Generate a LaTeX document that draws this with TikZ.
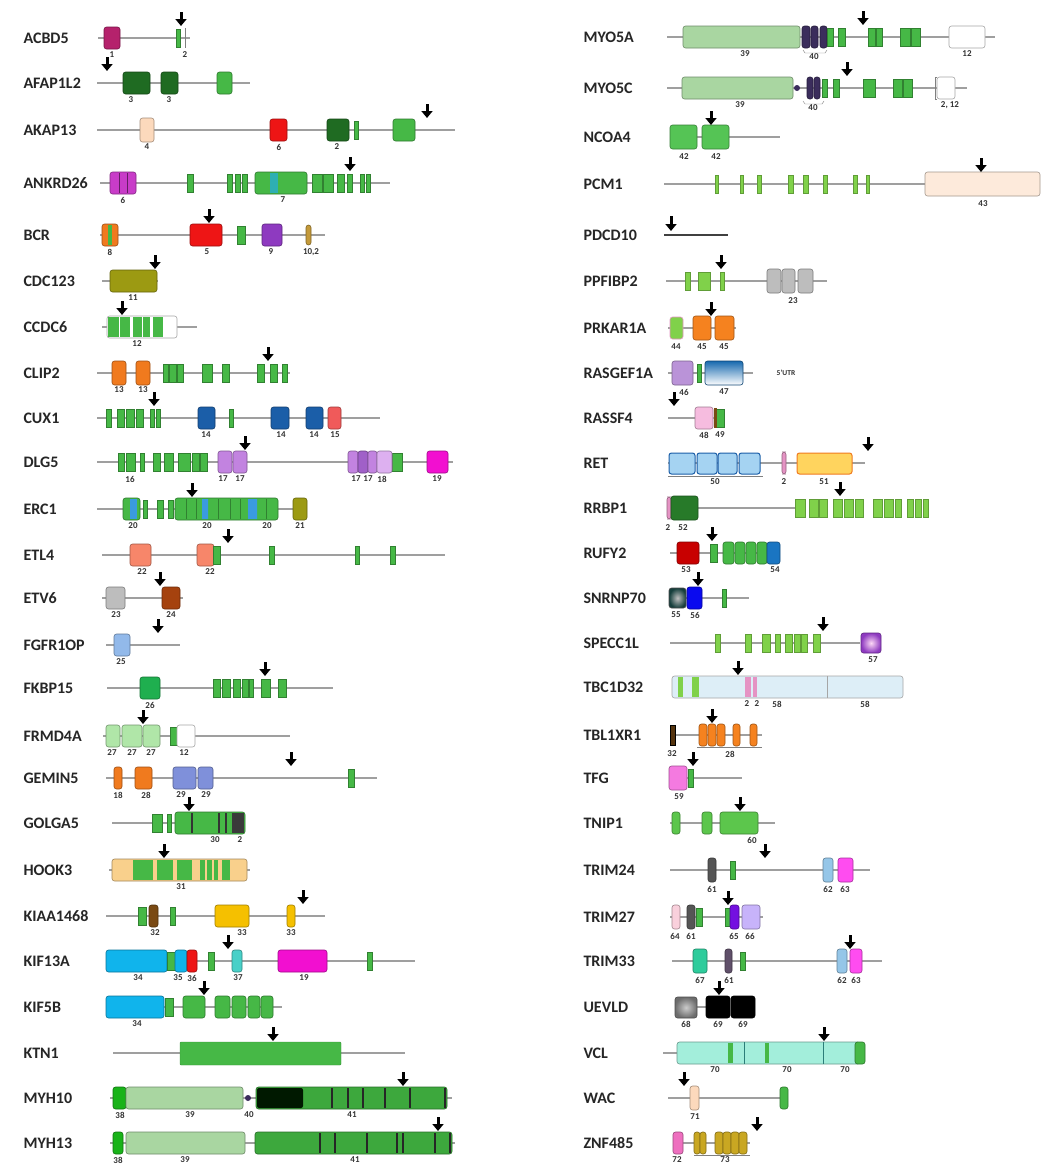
\documentclass[tikz,border=0pt]{standalone}
\usepackage{fontspec}
\setmainfont{Carlito}
\usepackage{tikz}
\usepackage{xcolor}
\usetikzlibrary{arrows.meta}

% domain colours
\definecolor{ccg}{HTML}{46B846}
\definecolor{lgr}{HTML}{80D14A}
\definecolor{dkg}{HTML}{1F6B22}
\definecolor{pale}{HTML}{A9D6A1}
\definecolor{rasp}{HTML}{B5226C}
\definecolor{orchid}{HTML}{C83CC8}
\definecolor{peach}{HTML}{FCD9BC}
\definecolor{gef}{HTML}{EE1515}
\definecolor{grape}{HTML}{8E3AC0}
\definecolor{ochre}{HTML}{C49A3A}
\definecolor{olive}{HTML}{9C9A12}
\definecolor{orng}{HTML}{F07A1E}
\definecolor{navy}{HTML}{1B5EA8}
\definecolor{salm}{HTML}{F05A5A}
\definecolor{lav}{HTML}{C283E0}
\definecolor{lavd}{HTML}{A060C8}
\definecolor{lavl}{HTML}{DDB0F0}
\definecolor{hotm}{HTML}{F20FD0}
\definecolor{sky}{HTML}{3A9BE0}
\definecolor{coral}{HTML}{F7866A}
\definecolor{grey}{HTML}{BDBDBD}
\definecolor{rust}{HTML}{A5420E}
\definecolor{cblue}{HTML}{92B9EA}
\definecolor{sea}{HTML}{1FAF4F}
\definecolor{mint}{HTML}{B0E6A8}
\definecolor{corn}{HTML}{7F90DA}
\definecolor{coal}{HTML}{3A3A3A}
\definecolor{tan}{HTML}{F9D08C}
\definecolor{bark}{HTML}{7A4A14}
\definecolor{gold}{HTML}{F5C000}
\definecolor{cyan}{HTML}{10B4EC}
\definecolor{teal}{HTML}{48D0C8}
\definecolor{lime}{HTML}{19B319}
\definecolor{dusk}{HTML}{3B2D5C}
\definecolor{myo}{HTML}{3DA83D}
\definecolor{ncoa}{HTML}{55C455}
\definecolor{pcm}{HTML}{FDEADB}
\definecolor{pka}{HTML}{F5821F}
\definecolor{lil}{HTML}{BA93D8}
\definecolor{rose}{HTML}{F6BCDF}
\definecolor{cadh}{HTML}{A5D3F2}
\definecolor{yel}{HTML}{FFD45E}
\definecolor{wine}{HTML}{C80000}
\definecolor{blu}{HTML}{1A75C2}
\definecolor{rrm}{HTML}{0A0AEF}
\definecolor{tbc}{HTML}{DDEEF7}
\definecolor{pinkb}{HTML}{E593C4}
\definecolor{fuch}{HTML}{F47AE0}
\definecolor{tnip}{HTML}{5CC64C}
\definecolor{ring}{HTML}{555555}
\definecolor{bbox}{HTML}{95C6E8}
\definecolor{phd}{HTML}{FF4CF0}
\definecolor{blush}{HTML}{F9D0DC}
\definecolor{viol}{HTML}{7410E0}
\definecolor{lilac}{HTML}{C7B3FA}
\definecolor{teal2}{HTML}{2ECC9C}
\definecolor{aqua}{HTML}{A3EEDB}
\definecolor{zpink}{HTML}{EE6FBF}
\definecolor{zgold}{HTML}{C9A722}

\newcounter{lbl}
\newcommand{\dom}[5][11]{\draw[dom, fill=#5, draw=#5!65!black] (#2,#4-#1) rectangle (#3,#4+#1);}
\newcommand{\ccb}[3]{\draw[ccbar] (#1,#3-9) rectangle (#2,#3+9);}
\newcommand{\lgb}[3]{\draw[lgbar] (#1,#3-9) rectangle (#2,#3+9);}
\newcommand{\dnum}[3]{\stepcounter{lbl}\node[num] (lbl\arabic{lbl}) at (#1,#2+17) {#3};}
\newcommand{\brk}[2]{\draw[brk] (#1,#2-26) -- (#1,#2-12);}

\begin{document}
\begin{tikzpicture}[
    x=1pt, y=-1pt,
    gene/.style={anchor=west, font=\fontsize{16}{16}\selectfont\bfseries, text=black!85},
    num/.style={font=\fontsize{9}{9}\selectfont\bfseries, text=black!80, inner sep=0pt},
    bb/.style={draw=gray!75, line width=2pt},
    dom/.style={rounded corners=2.5pt, line width=0.6pt},
    ccbar/.style={fill=ccg, draw=ccg!70!black, line width=0.4pt},
    lgbar/.style={fill=lgr, draw=lgr!75!black, line width=0.4pt},
    brk/.style={-{Triangle[width=11pt,length=7pt]}, line width=3pt, black}
]
    \useasboundingbox (0,0) rectangle (1042,1167);
    \fill[white] (0,0) rectangle (1042,1167);

    %%%%%%%%%%%%%%%% left column %%%%%%%%%%%%%%%%

    % ACBD5
    \node[gene] (ACBD5) at (20,38) {ACBD5};
    \draw[bb] (98,38) -- (190,38);
    \dom{104}{120}{38}{rasp}
    \ccb{176}{180}{38}
    \draw[gray, line width=0.8pt] (185,28) -- (185,48);
    \dnum{112}{38}{1} \dnum{185}{38}{2}
    \brk{181}{38}

    % AFAP1L2
    \node[gene] (AFAP1L2) at (20,83) {AFAP1L2};
    \draw[bb] (97,83) -- (250,83);
    \dom{123}{150}{83}{dkg} \dom{161}{178}{83}{dkg}
    \dom{217}{232}{83}{ccg}
    \dnum{131}{83}{3} \dnum{169}{83}{3}
    \brk{107}{83}

    % AKAP13
    \node[gene] (AKAP13) at (20,130) {AKAP13};
    \draw[bb] (97,130) -- (455,130);
    \dom[12]{140}{154}{130}{peach}
    \dom{270}{287}{130}{gef}
    \dom{327}{349}{130}{dkg}
    \ccb{354}{358}{130}
    \dom{393}{415}{130}{ccg}
    \dnum{147}{130}{4} \dnum{279}{130}{6} \dnum{337}{130}{2}
    \brk{427}{130}

    % ANKRD26
    \node[gene] (ANKRD26) at (20,183) {ANKRD26};
    \draw[bb] (100,183) -- (390,183);
    \dom{110}{136}{183}{orchid}
    \draw[orchid!50!black] (119,173) -- (119,193) (127,173) -- (127,193);
    \foreach \a/\b in {187/193, 227/232, 235/240, 242/247} \ccb{\a}{\b}{183};
    \dom{255}{307}{183}{ccg}
    \fill[sky!80!green] (270,173) rectangle (278,193);
    \foreach \a/\b in {312/322, 323/333, 337/344, 347/352, 360/364, 366/370} \ccb{\a}{\b}{183};
    \dnum{123}{183}{6} \dnum{283}{183}{7}
    \brk{350}{183}

    % BCR
    \node[gene] (BCR) at (20,235) {BCR};
    \draw[bb] (100,235) -- (325,235);
    \dom{102}{118}{235}{orng}
    \fill[ccg] (108,225) rectangle (112,245);
    \dom{190}{222}{235}{gef}
    \ccb{237}{245}{235}
    \dom{262}{282}{235}{grape}
    \dom[10]{306}{311}{235}{ochre}
    \dnum{110}{235}{8} \dnum{207}{235}{5} \dnum{271}{235}{9} \dnum{311}{235}{10,2}
    \brk{209}{235}

    % CDC123
    \node[gene] (CDC123) at (20,281) {CDC123};
    \draw[bb] (102,281) -- (158,281);
    \dom{110}{157}{281}{olive}
    \dnum{133}{281}{11}
    \brk{155}{281}

    % CCDC6
    \node[gene] (CCDC6) at (20,327) {CCDC6};
    \draw[bb] (102,327) -- (197,327);
    \dom{107}{177}{327}{white}
    \foreach \a/\b in {108/119, 120/130, 133/142, 143/150, 153/163} \fill[ccg] (\a,317) rectangle (\b,337);
    \dnum{137}{327}{12}
    \brk{122}{327}

    % CLIP2
    \node[gene] (CLIP2) at (20,373) {CLIP2};
    \draw[bb] (97,373) -- (290,373);
    \dom[12]{112}{126}{373}{orng} \dom[12]{136}{150}{373}{orng}
    \foreach \a/\b in {163/168, 169/176, 177/183, 202/212, 222/229, 257/264, 270/277, 282/287} \ccb{\a}{\b}{373};
    \dnum{119}{373}{13} \dnum{143}{373}{13}
    \brk{268}{373}

    % CUX1
    \node[gene] (CUX1) at (20,418) {CUX1};
    \draw[bb] (97,418) -- (380,418);
    \foreach \a/\b in {106/111, 117/124, 126/134, 136/143, 150/154, 156/160, 229/233} \ccb{\a}{\b}{418};
    \dom{198}{215}{418}{navy} \dom{271}{289}{418}{navy} \dom{306}{323}{418}{navy}
    \dom{328}{341}{418}{salm}
    \dnum{206}{418}{14} \dnum{281}{418}{14} \dnum{314}{418}{14} \dnum{335}{418}{15}
    \brk{154}{418}

    % DLG5
    \node[gene] (DLG5) at (20,462) {DLG5};
    \draw[bb] (97,462) -- (453,462);
    \foreach \a/\b in {118/124, 126/135, 140/144, 153/160, 164/173, 178/190, 192/199, 200/207, 392/402} \ccb{\a}{\b}{462};
    \dom{218}{232}{462}{lav} \dom{233}{247}{462}{lav}
    \dom{348}{358}{462}{lav} \dom{358}{368}{462}{lavd} \dom{368}{377}{462}{lav} \dom{377}{392}{462}{lavl}
    \dom{427}{448}{462}{hotm}
    \dnum{130}{462}{16} \dnum{223}{462}{17} \dnum{240}{462}{17}
    \dnum{356}{462}{17} \dnum{368}{462}{17} \dnum{382}{462}{18} \dnum{437}{462}{19}
    \brk{245}{462}

    % ERC1
    \node[gene] (ERC1) at (20,509) {ERC1};
    \draw[bb] (97,509) -- (307,509);
    \dom{123}{140}{509}{ccg}
    \fill[sky] (130,499) rectangle (137,519);
    \foreach \a/\b in {143/147, 157/163, 168/173} \ccb{\a}{\b}{509};
    \dom{175}{278}{509}{ccg}
    \fill[sky] (202,499) rectangle (208,519) (248,499) rectangle (257,519);
    \foreach \x in {186, 196, 218, 230, 240, 266} \draw[ccg!70!black, line width=0.5pt] (\x,499) -- (\x,519);
    \dom{293}{307}{509}{olive}
    \dnum{133}{509}{20} \dnum{207}{509}{20} \dnum{267}{509}{20} \dnum{300}{509}{21}
    \brk{192}{509}

    % ETL4
    \node[gene] (ETL4) at (20,555) {ETL4};
    \draw[bb] (102,555) -- (445,555);
    \dom{130}{151}{555}{coral}
    \dom{197}{214}{555}{coral}
    \foreach \a/\b in {213/220, 269/274, 355/359, 390/395} \ccb{\a}{\b}{555};
    \dnum{142}{555}{22} \dnum{210}{555}{22}
    \brk{228}{555}

    % ETV6
    \node[gene] (ETV6) at (20,598) {ETV6};
    \draw[bb] (102,598) -- (183,598);
    \dom{106}{125}{598}{grey} \dom{162}{180}{598}{rust}
    \dnum{116}{598}{23} \dnum{171}{598}{24}
    \brk{160}{598}

    % FGFR1OP
    \node[gene] (FGFR1OP) at (20,645) {FGFR1OP};
    \draw[bb] (106,645) -- (180,645);
    \dom{114}{130}{645}{cblue}
    \dnum{121}{645}{25}
    \brk{158}{645}

    % FKBP15
    \node[gene] (FKBP15) at (20,688) {FKBP15};
    \draw[bb] (107,688) -- (333,688);
    \dom{140}{160}{688}{sea}
    \foreach \a/\b in {213/220, 222/230, 233/240, 242/248, 249/253, 261/270, 278/286} \ccb{\a}{\b}{688};
    \dnum{150}{688}{26}
    \brk{265}{688}

    % FRMD4A
    \node[gene] (FRMD4A) at (20,736) {FRMD4A};
    \draw[bb] (103,736) -- (290,736);
    \dom{106}{120}{736}{mint} \dom{122}{142}{736}{mint} \dom{143}{160}{736}{mint}
    \ccb{170}{177}{736}
    \dom{177}{195}{736}{white}
    \dnum{112}{736}{27} \dnum{132}{736}{27} \dnum{151}{736}{27} \dnum{184}{736}{12}
    \brk{143}{736}

    % GEMIN5
    \node[gene] (GEMIN5) at (20,778) {GEMIN5};
    \draw[bb] (106,778) -- (377,778);
    \dom{114}{122}{778}{orng} \dom{135}{152}{778}{orng}
    \dom{173}{196}{778}{corn} \dom{198}{213}{778}{corn}
    \ccb{348}{354}{778}
    \dnum{118}{778}{18} \dnum{146}{778}{28} \dnum{181}{778}{29} \dnum{206}{778}{29}
    \brk{291}{778}

    % GOLGA5
    \node[gene] (GOLGA5) at (20,823) {GOLGA5};
    \draw[bb] (112,823) -- (245,823);
    \foreach \a/\b in {152/162, 167/171} \ccb{\a}{\b}{823};
    \dom{175}{245}{823}{ccg}
    \fill[coal] (232,813) rectangle (244,833);
    \foreach \x in {192, 219, 226} \draw[black!80, line width=1.3pt] (\x,813) -- (\x,833);
    \dnum{215}{823}{30} \dnum{240}{823}{2}
    \brk{189}{823}

    % HOOK3
    \node[gene] (HOOK3) at (20,870) {HOOK3};
    \draw[bb] (109,870) -- (250,870);
    \dom{112}{247}{870}{tan}
    \foreach \a/\b in {133/153, 157/173, 177/192, 200/205, 207/212, 214/218, 222/230} \fill[ccg] (\a,860) rectangle (\b,880);
    \dnum{181}{870}{31}
    \brk{164}{870}

    % KIAA1468
    \node[gene] (KIAA1468) at (20,916) {KIAA1468};
    \draw[bb] (106,916) -- (325,916);
    \foreach \a/\b in {138/146, 170/175} \ccb{\a}{\b}{916};
    \dom{149}{158}{916}{bark}
    \dom{215}{249}{916}{gold} \dom{287}{295}{916}{gold}
    \dnum{155}{916}{32} \dnum{242}{916}{33} \dnum{291}{916}{33}
    \brk{303}{916}

    % KIF13A
    \node[gene] (KIF13A) at (20,961) {KIF13A};
    \draw[bb] (106,961) -- (415,961);
    \dom{106}{167}{961}{cyan}
    \ccb{167}{175}{961}
    \dom{175}{187}{961}{cyan} \dom{187}{197}{961}{gef}
    \foreach \a/\b in {208/214, 367/372} \ccb{\a}{\b}{961};
    \dom{232}{242}{961}{teal}
    \dom{278}{327}{961}{hotm}
    \dnum{138}{961}{34} \dnum{178}{961}{35} \dnum{192}{961}{36} \dnum{238}{961}{37} \dnum{304}{961}{19}
    \brk{228}{961}

    % KIF5B
    \node[gene] (KIF5B) at (20,1007) {KIF5B};
    \draw[bb] (106,1007) -- (282,1007);
    \dom{106}{164}{1007}{cyan}
    \ccb{165}{173}{1007}
    \foreach \a/\b in {183/205, 215/230, 232/246, 248/260, 261/273} \dom{\a}{\b}{1007}{ccg};
    \dnum{137}{1007}{34}
    \brk{204}{1007}

    % KTN1
    \node[gene] (KTN1) at (20,1053) {KTN1};
    \draw[bb] (113,1053) -- (405,1053);
    \draw[fill=ccg, draw=ccg!80!black, rounded corners=1pt] (180,1042) rectangle (341,1065);
    \brk{273}{1053}

    % MYH10
    \node[gene] (MYH10) at (20,1098) {MYH10};
    \draw[bb] (110,1098) -- (452,1098);
    \dom{113}{126}{1098}{lime}
    \dom{126}{243}{1098}{pale}
    \fill[dusk] (248,1098) circle (3);
    \dom{256}{447}{1098}{myo}
    \fill[black!90!green, rounded corners=2pt] (257,1088) rectangle (303,1108);
    \foreach \x in {332, 348, 363, 385, 410, 445} \draw[black!85, line width=1.8pt] (\x,1088) -- (\x,1108);
    \dnum{120}{1098}{38} \dnum{190}{1098}{39} \dnum{249}{1098}{40} \dnum{352}{1098}{41}
    \brk{403}{1098}

    % MYH13
    \node[gene] (MYH13) at (20,1143) {MYH13};
    \draw[bb] (110,1143) -- (455,1143);
    \dom{113}{123}{1143}{lime}
    \dom{126}{245}{1143}{pale}
    \dom{255}{452}{1143}{myo}
    \foreach \x in {320, 335, 367, 397, 403, 435, 450} \draw[black!85, line width=1.8pt] (\x,1133) -- (\x,1153);
    \node[num] (n38) at (118,1160) {38};
    \node[num] (n39) at (185,1160) {39};
    \node[num] (n41) at (355,1160) {41};
    \brk{438}{1143}

    %%%%%%%%%%%%%%%% right column %%%%%%%%%%%%%%%%

    % MYO5A
    \node[gene] (MYO5A) at (580,37) {MYO5A};
    \draw[bb] (667,37) -- (995,37);
    \dom{683}{800}{37}{pale}
    \foreach \a/\b in {802/810, 811/818, 820/827} \dom{\a}{\b}{37}{dusk};
    \draw[gray] (803,50) -- (805,53) -- (825,53) -- (827,50);
    \foreach \a/\b in {827/833, 838/845, 868/875, 876/882, 900/910, 911/920} \ccb{\a}{\b}{37};
    \dom{949}{985}{37}{white}
    \dnum{745}{37}{39} \dnum{814}{40}{40} \dnum{967}{37}{12}
    \brk{863}{37}

    % MYO5C
    \node[gene] (MYO5C) at (580,88) {MYO5C};
    \draw[bb] (667,88) -- (967,88);
    \dom{682}{793}{88}{pale}
    \fill[dusk] (797,88) circle (3);
    \foreach \a/\b in {807/813, 814/820} \dom{\a}{\b}{88}{dusk};
    \draw[gray] (803,101) -- (805,104) -- (822,104) -- (824,101);
    \foreach \a/\b in {822/827, 833/839, 863/875, 893/902, 903/912} \ccb{\a}{\b}{88};
    \dom{937}{955}{88}{white}
    \draw[gray] (937,77) -- (935,77) -- (935,99) -- (937,99);
    \dnum{740}{88}{39} \dnum{813}{91}{40} \dnum{950}{88}{2, 12}
    \brk{847}{88}

    % NCOA4
    \node[gene] (NCOA4) at (580,137) {NCOA4};
    \draw[bb] (670,137) -- (780,137);
    \dom[12]{670}{697}{137}{ncoa} \dom[12]{702}{729}{137}{ncoa}
    \dnum{684}{140}{42} \dnum{716}{140}{42}
    \brk{711}{137}

    % PCM1
    \node[gene] (PCM1) at (580,184) {PCM1};
    \draw[bb] (664,184) -- (927,184);
    \foreach \a/\b in {715/718, 740/743, 757/761, 788/793, 803/808, 823/827, 853/857, 866/869} \lgb{\a}{\b}{184};
    \dom[12]{925}{1040}{184}{pcm}
    \dnum{983}{187}{43}
    \brk{981}{184}

    % PDCD10
    \node[gene] (PDCD10) at (580,235) {PDCD10};
    \draw[bb, draw=black!75] (664,235) -- (728,235);
    \draw[brk] (671,216) -- (671,231);

    % PPFIBP2
    \node[gene] (PPFIBP2) at (580,281) {PPFIBP2};
    \draw[bb] (666,281) -- (827,281);
    \foreach \a/\b in {685/690, 698/710, 720/724} \lgb{\a}{\b}{281};
    \foreach \a/\b in {767/781, 782/795, 798/813} \dom[12]{\a}{\b}{281}{grey};
    \dnum{793}{284}{23}
    \brk{721}{281}

    % PRKAR1A
    \node[gene] (PRKAR1A) at (580,328) {PRKAR1A};
    \draw[bb] (668,328) -- (736,328);
    \draw[dom, fill=lgr, draw=pinkb] (670,317) rectangle (683,339);
    \dom[12]{693}{711}{328}{pka} \dom[12]{715}{734}{328}{pka}
    \dnum{676}{330}{44} \dnum{702}{330}{45} \dnum{724}{330}{45}
    \brk{711}{328}

    % RASGEF1A
    \node[gene] (RASGEF1A) at (580,373) {RASGEF1A};
    \draw[bb] (668,373) -- (753,373);
    \dom[12]{672}{693}{373}{lil}
    \ccb{697}{701}{373}
    \draw[dom, top color=blu!90!black, bottom color=white, draw=blu!60!black] (705,361) rectangle (743,385);
    \node[num, font=\fontsize{7.5}{7.5}\selectfont\bfseries] (utr) at (786,373) {5'UTR};
    \dnum{684}{375}{46} \dnum{724}{375}{47}

    % RASSF4
    \node[gene] (RASSF4) at (580,418) {RASSF4};
    \draw[bb] (668,418) -- (725,418);
    \dom{695}{713}{418}{rose}
    \ccb{715}{724}{418}
    \fill[bark] (714,408) rectangle (717,428);
    \dnum{704}{418}{48} \dnum{720}{418}{49}
    \brk{674}{418}

    % RET
    \node[gene] (RET) at (580,463) {RET};
    \draw[bb] (668,463) -- (865,463);
    \foreach \a/\b in {669/695, 697/717, 718/737, 739/760} \draw[dom, fill=cadh, draw=navy, line width=1pt] (\a,453) rectangle (\b,474);
    \draw[gray] (668,476) -- (763,476);
    \dom{782}{786}{463}{pinkb}
    \draw[dom, fill=yel, draw=orng, line width=1pt] (797,453) rectangle (852,474);
    \dnum{715}{465}{50} \dnum{784}{465}{2} \dnum{824}{465}{51}
    \brk{868}{463}

    % RRBP1
    \node[gene] (RRBP1) at (580,508) {RRBP1};
    \draw[bb] (667,508) -- (795,508);
    \dom{667}{671}{508}{pinkb}
    \dom[12]{671}{698}{508}{dkg!80!ccg}
    \foreach \a/\b in {795/805, 809/818, 819/827, 833/842, 844/853, 855/863, 873/882, 884/893, 895/901, 907/913, 915/921, 923/928} \lgb{\a}{\b}{508};
    \dnum{668}{511}{2} \dnum{683}{511}{52}
    \brk{840}{508}

    % RUFY2
    \node[gene] (RUFY2) at (580,553) {RUFY2};
    \draw[bb] (670,553) -- (780,553);
    \dom{677}{699}{553}{wine}
    \ccb{710}{717}{553}
    \foreach \a/\b in {723/734, 735/745, 746/756, 757/767} \dom{\a}{\b}{553}{ccg};
    \dom{767}{780}{553}{blu}
    \dnum{686}{553}{53} \dnum{775}{553}{54}
    \brk{712}{553}

    % SNRNP70
    \node[gene] (SNRNP70) at (580,598) {SNRNP70};
    \draw[bb] (669,598) -- (749,598);
    \draw[dom, inner color=gray!50, outer color=black!70!teal, draw=black!70] (669,588) rectangle (686,608);
    \dom{687}{702}{598}{rrm}
    \ccb{722}{726}{598}
    \dnum{676}{598}{55} \dnum{695}{598}{56}
    \brk{698}{598}

    % SPECC1L
    \node[gene] (SPECC1L) at (580,643) {SPECC1L};
    \draw[bb] (670,643) -- (860,643);
    \foreach \a/\b in {715/720, 745/751, 762/770, 775/780, 785/792, 794/800, 801/807, 813/820} \lgb{\a}{\b}{643};
    \draw[dom, inner color=white!70!fuch, outer color=grape, draw=grape!70!black] (861,633) rectangle (881,653);
    \dnum{873}{643}{57}
    \brk{823}{643}

    % TBC1D32
    \node[gene] (TBC1D32) at (580,687) {TBC1D32};
    \draw[dom, fill=tbc, draw=gray!70] (672,676) rectangle (903,698);
    \foreach \a/\b in {678/683, 692/699} \fill[lgr] (\a,677) rectangle (\b,697);
    \foreach \a/\b in {745/751, 753/757} \fill[pinkb] (\a,677) rectangle (\b,697);
    \draw[gray!70] (827,676) -- (827,698);
    \dnum{747}{687}{2} \dnum{757}{687}{2} \dnum{777}{687}{58} \dnum{865}{687}{58}
    \brk{738}{687}

    % TBL1XR1
    \node[gene] (TBL1XR1) at (580,735) {TBL1XR1};
    \draw[bb] (670,735) -- (762,735);
    \draw[fill=bark!70!black, draw=black] (670,725) rectangle (675,745);
    \foreach \a/\b in {699/707, 708/716, 717/725, 733/740, 750/757} \dom{\a}{\b}{735}{pka};
    \draw[gray] (697,747) -- (762,747);
    \dnum{672}{737}{32} \dnum{730}{737}{28}
    \brk{712}{735}

    % TFG
    \node[gene] (TFG) at (580,778) {TFG};
    \draw[bb] (669,778) -- (742,778);
    \dom[12]{669}{687}{778}{fuch}
    \ccb{688}{693}{778}
    \dnum{679}{780}{59}
    \brk{693}{778}

    % TNIP1
    \node[gene] (TNIP1) at (580,823) {TNIP1};
    \draw[bb] (670,823) -- (775,823);
    \dom{672}{680}{823}{tnip} \dom{702}{712}{823}{tnip} \dom{720}{758}{823}{tnip}
    \dnum{752}{823}{60}
    \brk{740}{823}

    % TRIM24
    \node[gene] (TRIM24) at (580,870) {TRIM24};
    \draw[bb] (670,870) -- (870,870);
    \dom[12]{708}{716}{870}{ring}
    \ccb{730}{735}{870}
    \dom[12]{823}{833}{870}{bbox} \dom[12]{838}{853}{870}{phd}
    \dnum{712}{872}{61} \dnum{828}{872}{62} \dnum{845}{872}{63}
    \brk{765}{870}

    % TRIM27
    \node[gene] (TRIM27) at (580,917) {TRIM27};
    \draw[bb] (670,917) -- (763,917);
    \dom[12]{672}{680}{917}{blush} \dom[12]{687}{695}{917}{ring}
    \foreach \a/\b in {696/702, 725/730} \ccb{\a}{\b}{917};
    \dom[12]{730}{739}{917}{viol} \dom[12]{742}{760}{917}{lilac}
    \dnum{675}{919}{64} \dnum{691}{919}{61} \dnum{734}{919}{65} \dnum{750}{919}{66}
    \brk{728}{917}

    % TRIM33
    \node[gene] (TRIM33) at (580,961) {TRIM33};
    \draw[bb] (672,961) -- (882,961);
    \dom[12]{693}{707}{961}{teal2} \dom[12]{725}{732}{961}{ring!80!grape}
    \ccb{740}{745}{961}
    \dom[12]{837}{847}{961}{bbox} \dom[12]{850}{862}{961}{phd}
    \dnum{700}{963}{67} \dnum{729}{963}{61} \dnum{842}{963}{62} \dnum{856}{963}{63}
    \brk{850}{961}

    % UEVLD
    \node[gene] (UEVLD) at (580,1007) {UEVLD};
    \draw[bb] (695,1007) -- (708,1007);
    \draw[dom, inner color=gray!40, outer color=gray!85!black, draw=black!70] (675,997) rectangle (697,1018);
    \dom{706}{730}{1007}{black} \dom{731}{755}{1007}{black}
    \dnum{686}{1007}{68} \dnum{718}{1007}{69} \dnum{743}{1007}{69}
    \brk{719}{1007}

    % VCL
    \node[gene] (VCL) at (580,1053) {VCL};
    \draw[bb] (663,1053) -- (678,1053);
    \dom{677}{860}{1053}{aqua}
    \foreach \a/\b in {728/733, 765/769} \fill[ccg] (\a,1043) rectangle (\b,1063);
    \foreach \x in {744, 823} \draw[teal!60!black] (\x,1042) -- (\x,1064);
    \dom{855}{865}{1053}{ccg}
    \dnum{715}{1053}{70} \dnum{787}{1053}{70} \dnum{845}{1053}{70}
    \brk{824}{1053}

    % WAC
    \node[gene] (WAC) at (580,1098) {WAC};
    \draw[bb] (668,1098) -- (783,1098);
    \dom[12]{690}{699}{1098}{peach}
    \dom{780}{788}{1098}{ccg}
    \dnum{695}{1100}{71}
    \brk{684}{1098}

    % ZNF485
    \node[gene] (ZNF485) at (580,1143) {ZNF485};
    \draw[bb] (673,1143) -- (750,1143);
    \dom{673}{683}{1143}{zpink}
    \foreach \a/\b in {694/700, 700/706, 715/723, 723/731, 731/739, 739/747} \dom{\a}{\b}{1143}{zgold};
    \draw[gray] (694,1155) -- (750,1155);
    \node[num] (n72) at (677,1160) {72};
    \node[num] (n73) at (725,1160) {73};
    \brk{757}{1143}
\end{tikzpicture}
\end{document}
